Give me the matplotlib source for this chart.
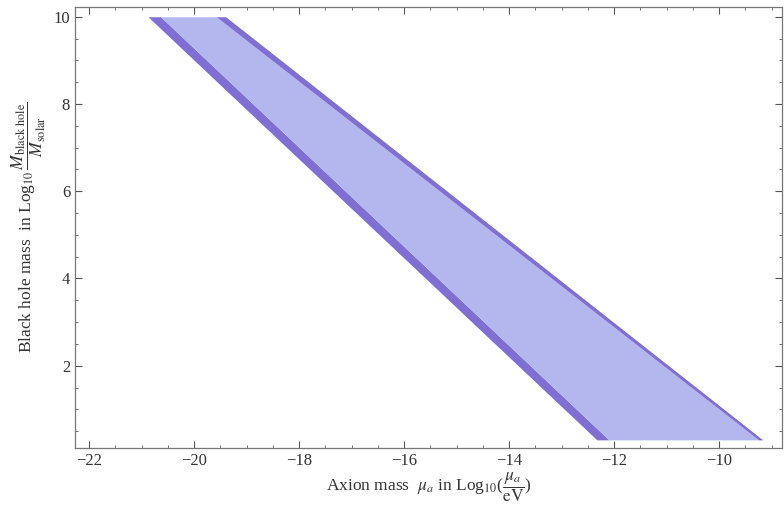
import numpy as np
import matplotlib.pyplot as plt
from matplotlib.ticker import MultipleLocator

plt.rcParams['font.family'] = ['Liberation Serif', 'DejaVu Serif']
plt.rcParams['mathtext.fontset'] = 'stix'

# band edges, read at the top (y=10) and bottom (y=0.3) of the region
y_ends = np.array([10.0, 0.3])
left_outer = np.array([-20.88, -12.33])
left_inner = np.array([-20.64, -12.10])
right_inner = np.array([-19.58, -9.25])
right_outer = np.array([-19.40, -9.17])

x_ticks = [-22, -20, -18, -16, -14, -12, -10]
y_ticks = [2, 4, 6, 8, 10]

light = '#b3b7ee'
dark = '#7f6fd2'

fig = plt.figure(figsize=(7.84, 5.11), dpi=100)
ax = fig.add_axes([0.0957, 0.123, 0.902, 0.863])

ax.fill_betweenx(y_ends, left_outer, left_inner, color=dark, lw=0)
ax.fill_betweenx(y_ends, left_inner, right_inner, color=light, lw=0)
ax.fill_betweenx(y_ends, right_inner, right_outer, color=dark, lw=0)

ax.set_xlim(-22.27, -8.8)
ax.set_ylim(0.11, 10.22)

ax.set_xticks(x_ticks)
ax.set_xticklabels(['\u2212%d' % abs(t) for t in x_ticks])
ax.set_yticks(y_ticks)
ax.xaxis.set_minor_locator(MultipleLocator(0.5))
ax.yaxis.set_minor_locator(MultipleLocator(0.5))
ax.tick_params(which='both', direction='in', top=True, right=True,
               colors='#555555', labelcolor='#333333', labelsize=12)
ax.tick_params(which='major', length=5, width=0.8)
ax.tick_params(which='minor', length=2.5, width=0.6)
for s in ax.spines.values():
    s.set_color('#777777')
    s.set_linewidth(0.9)

ax.set_xlabel(r'Axion mass  $\mu_a$ in Log$_{10}$($\dfrac{\mu_a}{\mathrm{eV}}$)',
              fontsize=12.5, color='#333333', labelpad=1)
ax.set_ylabel(r'Black hole mass  in Log$_{10}\,\dfrac{M_{\mathrm{black\ hole}}}{M_{\mathrm{solar}}}$',
              fontsize=12.5, color='#333333', labelpad=4)

fig.savefig('out.png', dpi=100)
